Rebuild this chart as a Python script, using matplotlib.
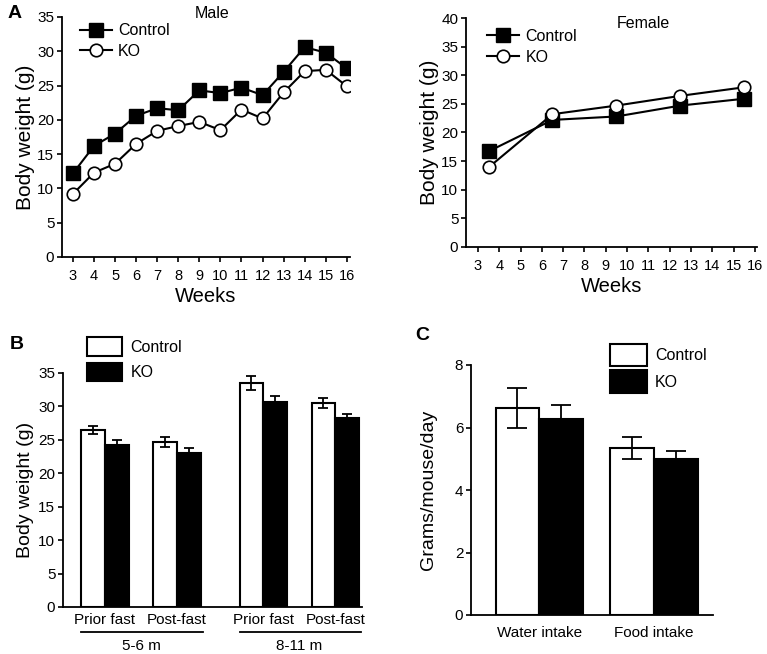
import matplotlib
matplotlib.use("Agg")
import matplotlib.pyplot as plt
import matplotlib.transforms as mtransforms
import numpy as np

plt.rcParams['font.family'] = ['Liberation Sans', 'DejaVu Sans']

# --- Panel A data ---
male_weeks = [3, 4, 5, 6, 7, 8, 9, 10, 11, 12, 13, 14, 15, 16]
male_ctrl = [12.2, 16.2, 18.0, 20.6, 21.7, 21.4, 24.3, 23.9, 24.7, 23.6, 27.0, 30.6, 29.8, 27.5]
male_ko = [9.2, 12.3, 13.6, 16.5, 18.4, 19.1, 19.7, 18.5, 21.5, 20.2, 24.0, 27.1, 27.3, 24.9]

female_weeks = [3.5, 6.5, 9.5, 12.5, 15.5]
female_ctrl = [16.7, 22.2, 22.8, 24.7, 25.9]
female_ko = [13.9, 23.2, 24.7, 26.4, 27.9]

week_ticks = list(range(3, 17))

# --- Panel B data ---
b_labels = ["Prior fast", "Post-fast", "Prior fast", "Post-fast"]
b_groups = ["5-6 m", "8-11 m"]
b_ctrl = [26.5, 24.7, 33.5, 30.5]
b_ctrl_err = [0.55, 0.8, 1.0, 0.75]
b_ko = [24.3, 23.1, 30.6, 28.2]
b_ko_err = [0.65, 0.65, 1.0, 0.7]
b_pos = np.array([0, 1, 2.2, 3.2])

# --- Panel C data ---
c_labels = ["Water intake", "Food intake"]
c_ctrl = [6.61, 5.35]
c_ctrl_err = [0.64, 0.35]
c_ko = [6.26, 4.98]
c_ko_err = [0.46, 0.28]
c_pos = np.array([0, 1])

W, H = 767, 654
fig = plt.figure(figsize=(W / 100, H / 100), dpi=100)


def px_axes(l, r, t, b):
    return fig.add_axes([l / W, 1 - b / H, (r - l) / W, (b - t) / H])


def style(ax):
    for s in ['top', 'right']:
        ax.spines[s].set_visible(False)
    for s in ['left', 'bottom']:
        ax.spines[s].set_linewidth(1.3)
    ax.tick_params(width=1.2, length=3.5, labelsize=11, direction='out', pad=2)


# Male
ax1 = px_axes(62, 350, 17, 257)
style(ax1)
ax1.plot(male_weeks, male_ctrl, '-s', color='black', lw=1.5, ms=9.5, mfc='black', label='Control')
ax1.plot(male_weeks, male_ko, '-o', color='black', lw=1.5, ms=9, mfc='white', mew=1.2, label='KO')
ax1.set_xlim(2.48, 16.15)
ax1.set_ylim(0, 35)
ax1.set_yticks(range(0, 36, 5))
ax1.set_xticks(week_ticks)
ax1.tick_params(axis='x', labelsize=10.5, pad=5)
ax1.set_ylabel("Body weight (g)", fontsize=15, labelpad=2)
ax1.set_xlabel("Weeks", fontsize=14.5, labelpad=3)
ax1.legend(loc='upper left', bbox_to_anchor=(0.04, 1.0), frameon=False, fontsize=11.5,
           handlelength=2.0, handletextpad=0.4, labelspacing=0.35, borderaxespad=0)
fig.text(212 / W, 1 - 14 / H, "Male", ha='center', va='center', fontsize=11.5)
fig.text(8 / W, 1 - 14 / H, "A", ha='left', va='center', fontsize=14, fontweight='bold')

# Female
ax2 = px_axes(466, 757, 18, 247)
style(ax2)
ax2.plot(female_weeks, female_ctrl, '-s', color='black', lw=1.5, ms=9.5, mfc='black', label='Control')
ax2.plot(female_weeks, female_ko, '-o', color='black', lw=1.5, ms=9, mfc='white', mew=1.2, label='KO')
ax2.set_xlim(2.44, 16.1)
ax2.set_ylim(0, 40)
ax2.set_yticks(range(0, 41, 5))
ax2.set_xticks(week_ticks)
ax2.tick_params(axis='x', labelsize=10.5, pad=5)
ax2.set_ylabel("Body weight (g)", fontsize=15, labelpad=2)
ax2.set_xlabel("Weeks", fontsize=14.5, labelpad=3)
ax2.legend(loc='upper left', bbox_to_anchor=(0.05, 0.98), frameon=False, fontsize=11.5,
           handlelength=2.0, handletextpad=0.4, labelspacing=0.35, borderaxespad=0)
fig.text(643 / W, 1 - 23 / H, "Female", ha='center', va='center', fontsize=11.5)

# Panel B
bw = 0.33
ax3 = px_axes(63, 362, 373, 607)
style(ax3)
ax3.bar(b_pos - bw / 2, b_ctrl, bw, color='white', edgecolor='black', lw=1.5, label='Control')
ax3.bar(b_pos + bw / 2, b_ko, bw, color='black', edgecolor='black', lw=1.5, label='KO')
ax3.errorbar(b_pos - bw / 2, b_ctrl, yerr=b_ctrl_err, fmt='none', ecolor='black', elinewidth=1.3, capsize=3.5, capthick=1.3)
ax3.errorbar(b_pos + bw / 2, b_ko, yerr=b_ko_err, fmt='none', ecolor='black', elinewidth=1.3, capsize=3.5, capthick=1.3)
ax3.set_xlim(-0.583, 3.57)
ax3.set_ylim(0, 35)
ax3.set_yticks(range(0, 36, 5))
ax3.set_xticks(b_pos)
ax3.set_xticklabels(b_labels)
ax3.tick_params(axis='x', length=0, pad=4, labelsize=11)
ax3.set_ylabel("Body weight (g)", fontsize=14, labelpad=3)
trans = mtransforms.blended_transform_factory(ax3.transData, ax3.transAxes)
for g in range(2):
    x0, x1 = b_pos[2 * g] - 0.33, b_pos[2 * g + 1] + 0.36
    ax3.plot([x0, x1], [-0.108, -0.108], color='black', lw=1.3, transform=trans, clip_on=False)
    ax3.text((b_pos[2 * g] + b_pos[2 * g + 1]) / 2, -0.168, b_groups[g], transform=trans,
             ha='center', va='center', fontsize=11)
ax3.legend(loc='upper left', bbox_to_anchor=(0.06, 1.18), frameon=False, fontsize=11.5,
           handlelength=2.2, handleheight=1.4, handletextpad=0.5, labelspacing=0.45, borderaxespad=0)
fig.text(10 / W, 1 - 345 / H, "B", ha='left', va='center', fontsize=14, fontweight='bold')

# Panel C
cw = 0.38
ax4 = px_axes(471, 713, 365, 615)
style(ax4)
ax4.bar(c_pos - cw / 2, c_ctrl, cw, color='white', edgecolor='black', lw=1.5, label='Control')
ax4.bar(c_pos + cw / 2, c_ko, cw, color='black', edgecolor='black', lw=1.5, label='KO')
ax4.errorbar(c_pos - cw / 2, c_ctrl, yerr=c_ctrl_err, fmt='none', ecolor='black', elinewidth=1.3, capsize=7, capthick=1.3)
ax4.errorbar(c_pos + cw / 2, c_ko, yerr=c_ko_err, fmt='none', ecolor='black', elinewidth=1.3, capsize=7, capthick=1.3)
ax4.set_xlim(-0.594, 1.513)
ax4.set_ylim(0, 8)
ax4.set_yticks(range(0, 9, 2))
ax4.set_xticks(c_pos)
ax4.set_xticklabels(c_labels)
ax4.tick_params(axis='x', length=0, pad=8, labelsize=11)
ax4.set_ylabel("Grams/mouse/day", fontsize=14, labelpad=13)
ax4.legend(loc='upper left', bbox_to_anchor=(0.55, 1.11), frameon=False, fontsize=11.5,
           handlelength=2.3, handleheight=1.8, handletextpad=0.5, labelspacing=0.25, borderaxespad=0)
fig.text(422 / W, 1 - 335 / H, "C", ha='center', va='center', fontsize=14, fontweight='bold')

fig.savefig("out.png", dpi=100)
